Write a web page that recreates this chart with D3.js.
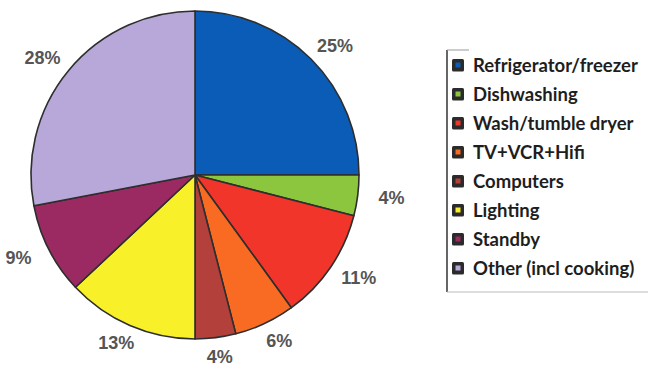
<!DOCTYPE html>
<html>
<head>
<meta charset="utf-8">
<script src="https://cdn.jsdelivr.net/npm/d3@7"></script>
<style>
  html, body { margin: 0; padding: 0; background: #fff; }
  svg { display: block; }
</style>
</head>
<body>
<svg id="chart" width="648" height="367"></svg>
<script>
// Household electricity use by appliance group (share of total, %)
const categories = [
  "Refrigerator/freezer",
  "Dishwashing",
  "Wash/tumble dryer",
  "TV+VCR+Hifi",
  "Computers",
  "Lighting",
  "Standby",
  "Other (incl cooking)"
];
const shares = [25, 4, 11, 6, 4, 13, 9, 28];
const colors = ["#0b5cb6", "#8cc63e", "#f2352a", "#f96a22", "#b3403a", "#f8f12a", "#9b2a62", "#b7a8d9"];

const svg = d3.select("#chart");
const cx = 195, cy = 175, radius = 164;
// percentage labels sit on a slightly flattened ring outside the pie
const labelRx = 198, labelRy = 183;

const data = categories.map((name, i) => ({ name, value: shares[i], color: colors[i] }));

const pie = d3.pie().value(d => d.value).sort(null);
const arcs = pie(data);
const arc = d3.arc().innerRadius(0).outerRadius(radius);

const g = svg.append("g").attr("transform", `translate(${cx},${cy})`);

g.selectAll("path.slice")
  .data(arcs)
  .join("path")
  .attr("class", "slice")
  .attr("d", arc)
  .attr("fill", d => d.data.color)
  .attr("stroke", "#2e2e2e")
  .attr("stroke-width", 1.6)
  .attr("stroke-linejoin", "round");

g.selectAll("text.pct")
  .data(arcs)
  .join("text")
  .attr("class", "pct")
  .attr("transform", d => {
    const a = (d.startAngle + d.endAngle) / 2;
    return `translate(${labelRx * Math.sin(a)},${-labelRy * Math.cos(a)})`;
  })
  .attr("text-anchor", "middle")
  .attr("dominant-baseline", "central")
  .attr("font-family", "Liberation Sans, Arial, sans-serif")
  .attr("font-weight", "bold")
  .attr("font-size", 18)
  .attr("fill", "#555")
  .text(d => d.data.value + "%");

// Legend
const legend = svg.append("g").attr("transform", "translate(447,0)");
legend.append("line")
  .attr("x1", 0).attr("x2", 0).attr("y1", 50).attr("y2", 292)
  .attr("stroke", "#333").attr("stroke-width", 1.5);
legend.append("line")
  .attr("x1", 0).attr("x2", 22).attr("y1", 50).attr("y2", 50)
  .attr("stroke", "#999").attr("stroke-width", 1);
legend.append("line")
  .attr("x1", 0).attr("x2", 201).attr("y1", 292).attr("y2", 292)
  .attr("stroke", "#bbb").attr("stroke-width", 1.2);

const itemY = d3.scalePoint().domain(categories).range([65, 268]);

const items = legend.selectAll("g.item")
  .data(data)
  .join("g")
  .attr("class", "item")
  .attr("transform", d => `translate(0,${itemY(d.name)})`);

items.append("rect")
  .attr("x", 5).attr("y", -6).attr("width", 12).attr("height", 12.5)
  .attr("rx", 1.5)
  .attr("fill", "#2b2b2b");
items.append("rect")
  .attr("x", 8.5).attr("y", -2.5).attr("width", 5).attr("height", 5)
  .attr("fill", d => d.color);
items.append("text")
  .attr("x", 26)
  .attr("y", 0)
  .attr("dominant-baseline", "central")
  .attr("font-family", "Lato, sans-serif")
  .attr("font-weight", "bold")
  .attr("font-size", 18.5)
  .attr("fill", "#1e1e1e")
  .text(d => d.name);
</script>
</body>
</html>
